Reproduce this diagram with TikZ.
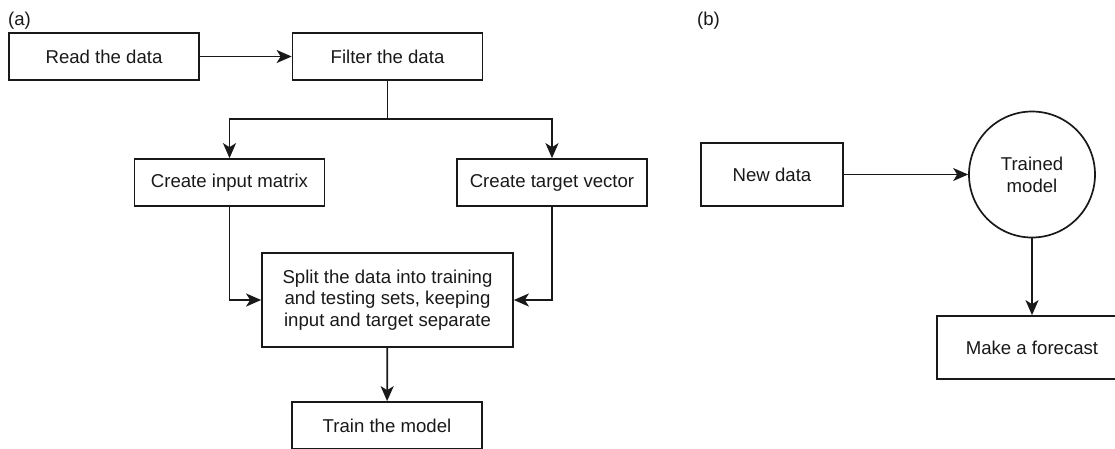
\documentclass[tikz,border=0pt]{standalone}
\usepackage{fontspec}
\setmainfont{Liberation Sans}
\usepackage{tikz}
\usetikzlibrary{arrows.meta,shapes}
\tikzstyle{block}=[rectangle,draw=black!90,line width=1.7pt,minimum width=190pt,minimum height=47pt,inner sep=0pt,align=center,text=black!90,font=\fontsize{18.6}{21.7}\selectfont]
\tikzstyle{model}=[circle,draw=black!90,line width=1.7pt,minimum size=126pt,inner sep=0pt,align=center,text=black!90,font=\fontsize{18.6}{21.7}\selectfont]
\tikzstyle{flow}=[draw=black!90,line width=1.7pt,-{Stealth[length=15pt,width=13pt,inset=4pt]}]

\begin{document}
\begin{tikzpicture}[x=1pt,y=-1pt]
        \useasboundingbox (0,0) rectangle (1115,448);
        % (a) training
        \node at (8,21) [anchor=west,inner sep=0pt,text=black!90,font=\fontsize{18.6}{21.7}\selectfont] (lbla) {(a)};
        \node at (104,56.5) [block] (read) {Read the data};
        \node at (387.5,56.5) [block] (filter) {Filter the data};
        \node at (229.5,182.5) [block] (input) {Create input matrix};
        \node at (552,182.5) [block] (target) {Create target vector};
        \node at (387.5,300) [block,minimum width=251pt,minimum height=94pt] (split) {Split the data into training\\and testing sets, keeping\\input and target separate};
        \node at (387,425.5) [block] (train) {Train the model};
        \coordinate (fork) at (387.5,119);
        \draw [flow] (read) -- (filter);
        \draw [draw=black!90,line width=1.7pt] (filter) -- (fork);
        \draw [flow] (fork) -| (input);
        \draw [flow] (fork) -| (target);
        \draw [flow] (input) |- (split);
        \draw [flow] (target) |- (split);
        \draw [flow] (split) -- (train);
        % (b) forecasting
        \node at (697,21) [anchor=west,inner sep=0pt,text=black!90,font=\fontsize{18.6}{21.7}\selectfont] (lblb) {(b)};
        \node at (772,174.5) [block,minimum width=142pt,minimum height=63pt] (new) {New data};
        \node at (1032,174.5) [model] (trained) {Trained\\model};
        \node at (1032,347.5) [block,minimum height=63pt] (forecast) {Make a forecast};
        \draw [flow] (new) -- (trained);
        \draw [flow] (trained) -- (forecast);
      \end{tikzpicture}
\end{document}
